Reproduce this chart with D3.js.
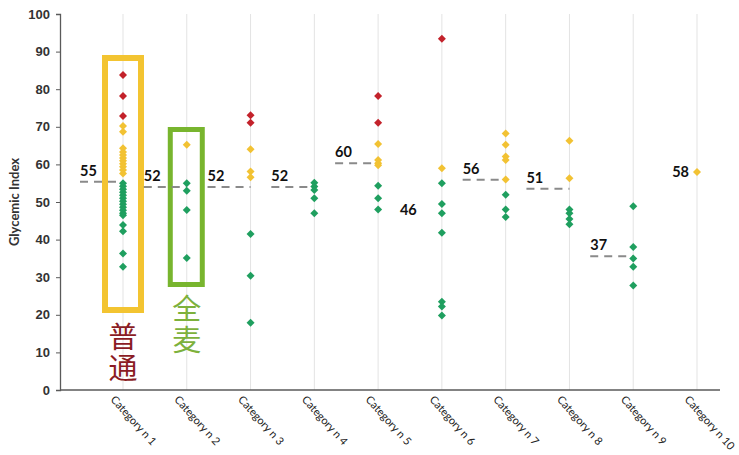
<!DOCTYPE html>
<html><head><meta charset="utf-8">
<script src="https://cdn.jsdelivr.net/npm/d3@7"></script>
<style>
html,body{margin:0;padding:0;background:#fff;}
svg{display:block;font-family:Lato,"Open Sans",sans-serif;}
</style></head>
<body>
<svg id="chart" width="739" height="455"></svg>
<script>
const categories = ["Category n 1","Category n 2","Category n 3","Category n 4","Category n 5","Category n 6","Category n 7","Category n 8","Category n 9","Category n 10"];
const redValues = [[83.8,78.2,72.9],[],[73.1,71.1],[],[78.2,71.1],[93.4],[],[],[],[]];
const yellowValues = [[70.2,68.7,64.3,63.3,62.5,61.7,61,60.2,59.4,58.5,57.6],[65.2],[64,58.1,56.6],[],[65.4,61.2,60.3,59.8],[59],[68.2,65.2,62.1,61.2,56],[66.3,56.3],[],[58]];
const greenValues = [[55,54.2,53.4,52.6,51.8,51,50.2,49.4,48.6,47.8,47,46.5,43.9,42.2,36.3,32.8],[55,53,47.9,35.1],[41.5,30.4,17.9],[55.1,54.1,53.2,51,47],[54.3,51,48],[55,49.5,47,41.8,23.5,22.2,19.8],[51.9,48,46],[48,47,45.5,44.1],[48.9,38,35,32.8,27.8],[]];
const meanLabels = ["55","52","52","52","60","46","56","51","37","58"];
const meanLevels = [55.4,54,54,54,60.3,null,55.9,53.5,35.6,null];
const meanValues = [55,52,52,52,60,46,56,51,37,58];
const yTicks = [0,10,20,30,40,50,60,70,80,90,100];
const yTitle = "Glycemic Index";
const noteLabels = ["普通","全麦"];

const svg = d3.select("#chart");
const y = d3.scaleLinear().domain([0,100]).range([390,14]);
const x = d3.scalePoint().domain(categories).range([123,697]);
const colors = {red:"#c3222b", yellow:"#f2c233", green:"#1f9f5f"};

// vertical gridlines
svg.append("g").selectAll("line").data(categories).join("line")
  .attr("x1",d=>x(d)).attr("x2",d=>x(d)).attr("y1",y(100)).attr("y2",y(0))
  .attr("stroke","#e3e3e3").attr("stroke-width",1);

// y axis
const yAxis = svg.append("g").attr("transform","translate(60,0)")
  .call(d3.axisLeft(y).tickValues(yTicks).tickSize(4).tickPadding(6));
yAxis.select(".domain").attr("stroke","#5a5a5a").attr("stroke-width",1.3);
yAxis.selectAll(".tick line").attr("stroke","#5a5a5a");
yAxis.selectAll("text").attr("font-size",13).attr("font-weight","bold").attr("fill","#333");

// x axis line
svg.append("line").attr("x1",60).attr("x2",720).attr("y1",y(0)).attr("y2",y(0))
  .attr("stroke","#5a5a5a").attr("stroke-width",1.3);
// x labels
svg.append("g").selectAll("text").data(categories).join("text")
  .attr("transform",d=>`translate(${x(d)-13},${y(0)+10}) rotate(48)`)
  .attr("font-size",11).attr("fill","#222").text(d=>d);

// y title
svg.append("text").attr("transform","translate(19,202) rotate(-90)")
  .attr("text-anchor","middle").attr("font-size",13).attr("font-weight","bold").attr("fill","#333")
  .text(yTitle);

// highlight boxes
svg.append("rect").attr("x",x(categories[0])-18).attr("y",58).attr("width",36).attr("height",252)
  .attr("fill","none").attr("stroke","#f3c431").attr("stroke-width",6);
svg.append("rect").attr("x",x(categories[1])-16.5).attr("y",129.5).attr("width",32).attr("height",155)
  .attr("fill","none").attr("stroke","#78b52e").attr("stroke-width",5);

// mean dashed lines
categories.forEach((c,i)=>{
  if(meanLevels[i]!==null){
    svg.append("line").attr("x1",x(c)-43).attr("x2",x(c)).attr("y1",y(meanLevels[i])).attr("y2",y(meanLevels[i]))
      .attr("stroke","#8a8a8a").attr("stroke-width",2).attr("stroke-dasharray","8,6");
  }
});

// points (square diamonds)
const diamond = d3.symbol().type(d3.symbolSquare).size(32);
function drawPts(vals,col){
  const pts=[];
  vals.forEach((arr,i)=>arr.forEach(v=>pts.push({c:categories[i],v})));
  svg.append("g").selectAll("path").data(pts).join("path")
    .attr("d",diamond).attr("transform",d=>`translate(${x(d.c)},${y(d.v)}) rotate(45)`).attr("fill",col);
}
drawPts(greenValues,colors.green);
drawPts(yellowValues,colors.yellow);
drawPts(redValues,colors.red);

// mean labels
categories.forEach((c,i)=>{
  const t = svg.append("text").attr("font-size",14.5).attr("font-weight","bold").attr("fill","#111").text(meanLabels[i]);
  if(meanLevels[i]!==null){
    t.attr("x",x(c)-43).attr("y",y(meanLevels[i])-6);
  } else if(i===categories.length-1){
    t.attr("x",x(c)-8).attr("y",y(meanValues[i])+5).attr("text-anchor","end");
  } else {
    t.attr("x",x(c)-42).attr("y",y(meanValues[i])-2);
  }
});

// chinese notes (vertical text)
function note(label, cx, top, col){
  svg.append("text").attr("x",cx).attr("y",top)
    .attr("writing-mode","vertical-rl").attr("letter-spacing",2)
    .attr("font-family","'Noto Sans CJK SC'").attr("font-size",29).attr("fill",col)
    .text(label);
}
note(noteLabels[0], x(categories[0]), 322, "#8b1c24");
note(noteLabels[1], x(categories[1]), 294, "#7db13c");
</script>
</body></html>
